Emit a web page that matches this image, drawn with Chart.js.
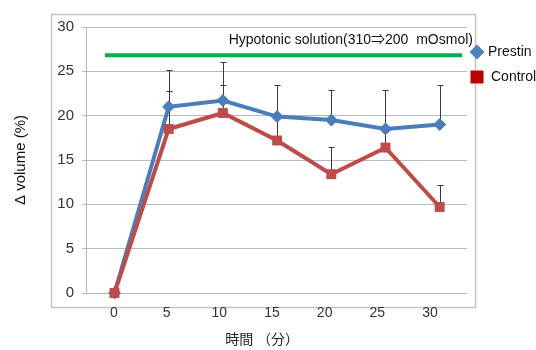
<!DOCTYPE html>
<html>
<head>
<meta charset="utf-8">
<script src="https://cdn.jsdelivr.net/npm/chart.js@4/dist/chart.umd.min.js"></script>
<style>
  body { margin: 0; background: #fff; }
</style>
</head>
<body>
<canvas id="volumeChart" width="536" height="350"></canvas>
<script>
// time points (min)
const times = [0, 5, 10, 15, 20, 25, 30];
const xTickLabels = [0, 5, 10, 15, 20, 25, 30];

// mean volume change (%) and upper error bar ends
const prestinValues = [0, 21.0, 21.7, 19.9, 19.5, 18.5, 19.0];
const prestinErrTop = [null, 25.2, 26.1, 23.5, 22.85, 22.95, 23.5];
const controlValues = [0, 18.5, 20.3, 17.2, 13.4, 16.4, 9.7];
const controlErrTop = [null, 22.8, 23.5, 20.0, 16.5, 18.3, 12.2];

// hypotonic solution bar
const solutionX = [-0.88, 32.06];
const solutionY = 26.8;
const solutionLabel = 'Hypotonic solution(310\u21D2200  mOsmol)';

const FONT = "'Liberation Sans', Arial, 'Noto Sans CJK JP', sans-serif";

function toPoints(values) {
    return times.map(function (t, i) { return { x: t, y: values[i] }; });
}

const decorPlugin = {
    id: 'decor',
    beforeDraw(chart) {
        // outer frame of the plot
        const ctx = chart.ctx;
        ctx.save();
        ctx.strokeStyle = '#c4c4c4';
        ctx.lineWidth = 1.5;
        ctx.strokeRect(51.5, 14.5, 424, 293);
        ctx.restore();
    },
    beforeDatasetsDraw(chart) {
        // upper error bars
        const ctx = chart.ctx;
        const xs = chart.scales.x;
        const ys = chart.scales.y;
        ctx.save();
        ctx.strokeStyle = '#3a3a3a';
        ctx.lineWidth = 1;
        [[prestinValues, prestinErrTop], [controlValues, controlErrTop]].forEach(function (pair) {
            times.forEach(function (t, i) {
                if (pair[1][i] == null) return;
                const x = Math.round(xs.getPixelForValue(t)) + 0.5;
                const y0 = ys.getPixelForValue(pair[0][i]);
                const y1 = Math.round(ys.getPixelForValue(pair[1][i])) + 0.5;
                ctx.beginPath();
                ctx.moveTo(x, y0);
                ctx.lineTo(x, y1);
                ctx.moveTo(x - 3, y1);
                ctx.lineTo(x + 3, y1);
                ctx.stroke();
            });
        });
        ctx.restore();
    },
    afterDatasetsDraw(chart) {
        const ctx = chart.ctx;
        const xs = chart.scales.x;
        const ys = chart.scales.y;
        ctx.save();
        // label of the solution bar
        ctx.font = '14px ' + FONT;
        ctx.fillStyle = '#111';
        ctx.textAlign = 'right';
        ctx.textBaseline = 'middle';
        ctx.fillText(solutionLabel, xs.getPixelForValue(33.07), ys.getPixelForValue(28.5));

        // legend
        const items = [chart.data.datasets[0], chart.data.datasets[1]];
        items.forEach(function (ds, i) {
            const cy = 52 + i * 25;
            ctx.fillStyle = ds.legendColor;
            ctx.beginPath();
            if (ds.pointStyle === 'rect') {
                ctx.rect(477 - 6.5, cy - 6.5, 13, 13);
            } else {
                ctx.moveTo(477, cy - 7.5);
                ctx.lineTo(484.5, cy);
                ctx.lineTo(477, cy + 7.5);
                ctx.lineTo(469.5, cy);
                ctx.closePath();
            }
            ctx.fill();
            ctx.fillStyle = '#111';
            ctx.textAlign = 'left';
            ctx.fillText(ds.label, ds.pointStyle === 'rect' ? 491 : 488, cy);
        });
        ctx.restore();
    }
};

const ctx = document.getElementById('volumeChart').getContext('2d');
new Chart(ctx, {
    type: 'line',
    data: {
        datasets: [{
            label: 'Prestin',
            data: toPoints(prestinValues),
            borderColor: '#4a7ebb',
            backgroundColor: '#4a7ebb',
            borderWidth: 4,
            pointStyle: 'rectRot',
            pointRadius: 6.5,
            pointBorderWidth: 0,
            legendColor: '#4f81bd',
            order: 2,
            clip: false
        }, {
            label: 'Control',
            data: toPoints(controlValues),
            borderColor: '#be4b48',
            backgroundColor: '#be4b48',
            borderWidth: 4,
            pointStyle: 'rect',
            pointRadius: 7,
            pointBorderWidth: 0,
            legendColor: '#c00000',
            order: 1,
            clip: false
        }, {
            label: 'solution',
            data: [{ x: solutionX[0], y: solutionY }, { x: solutionX[1], y: solutionY }],
            borderColor: '#00b050',
            borderWidth: 4,
            pointRadius: 0,
            order: 3,
            clip: false
        }]
    },
    options: {
        responsive: false,
        animation: false,
        layout: { padding: { top: 27, right: 69, bottom: 0, left: 0 } },
        plugins: {
            legend: { display: false },
            tooltip: { enabled: false }
        },
        scales: {
            x: {
                type: 'linear',
                display: false,
                min: -2.63,
                max: 32.52
            },
            x2: {
                type: 'linear',
                position: 'bottom',
                min: -2.66,
                max: 33.52,
                afterBuildTicks: function (scale) {
                    scale.ticks = xTickLabels.map(function (v) { return { value: v }; });
                },
                afterFit: function (scale) { scale.height = 57; },
                grid: { display: false, drawTicks: false },
                border: { display: false },
                ticks: {
                    padding: 12,
                    maxRotation: 0,
                    autoSkip: false,
                    color: '#333',
                    font: { family: FONT, size: 14 }
                },
                title: {
                    display: true,
                    // trailing spaces shift the centred title left, as in the source
                    text: '時間 （分）　　  ',
                    color: '#222',
                    padding: { top: 0, bottom: 1 },
                    font: { family: FONT, size: 14 }
                }
            },
            y: {
                min: 0,
                max: 30,
                afterFit: function (scale) { scale.width = 86; },
                ticks: {
                    stepSize: 5,
                    padding: 8,
                    color: '#333',
                    font: { family: FONT, size: 15 }
                },
                grid: { color: '#b8b8b8', lineWidth: 1, tickLength: 4 },
                border: { color: '#b8b8b8' },
                title: {
                    display: true,
                    text: '\u0394 volume (%)',
                    color: '#111',
                    padding: { top: 12, bottom: 0 },
                    font: { family: FONT, size: 15 }
                }
            }
        }
    },
    plugins: [decorPlugin]
});
</script>
</body>
</html>
